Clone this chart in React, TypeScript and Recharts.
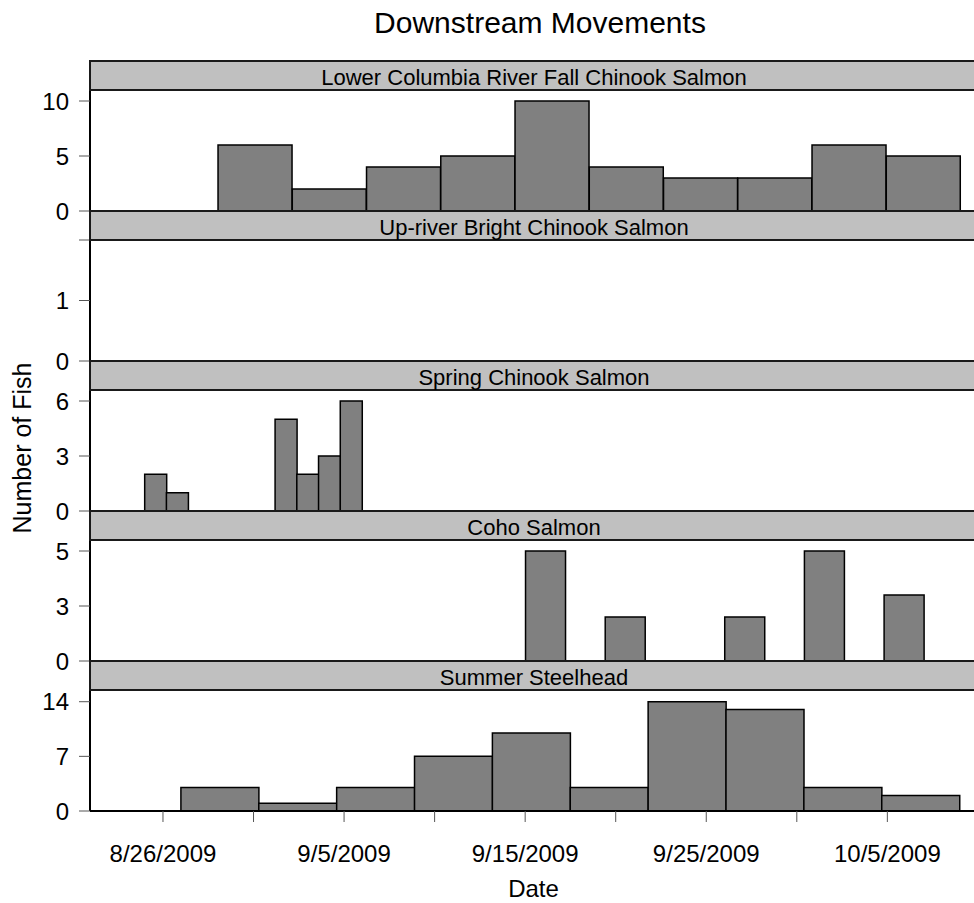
import React from "react";
import { BarChart, Bar, XAxis, YAxis } from "recharts";

// bin centres are days after 8/26/2009, counts are fish per bin
const lowerColumbiaDays = [5.09, 9.19, 13.29, 17.39, 21.49, 25.59, 29.69, 33.79, 37.89, 41.99];
const lowerColumbiaFish = [6, 2, 4, 5, 10, 4, 3, 3, 6, 5];
const lowerColumbiaTicks = [0, 5, 10];
const lowerColumbiaTickLabels = ["0", "5", "10"];

const upriverBrightDays: number[] = [];
const upriverBrightFish: number[] = [];
const upriverBrightTicks = [0, 1, 2];
const upriverBrightTickLabels = ["0", "1", ""];

const springDays = [-0.41, 0.79, 1.99, 3.19, 4.39, 5.59, 6.79, 7.99, 9.19, 10.39];
const springFish = [2, 1, 0, 0, 0, 0, 5, 2, 3, 6];
const springTicks = [0, 3, 6];
const springTickLabels = ["0", "3", "6"];

const cohoDays = [21.12, 23.32, 25.52, 27.72, 29.92, 32.12, 34.32, 36.52, 38.72, 40.92];
const cohoFish = [5, 0, 2, 0, 0, 2, 0, 5, 0, 3];
const cohoTicks = [0, 2.5, 5];
const cohoTickLabels = ["0", "3", "5"];

const steelheadDays = [3.14, 7.44, 11.74, 16.04, 20.34, 24.64, 28.94, 33.24, 37.54, 41.84];
const steelheadFish = [3, 1, 3, 7, 10, 3, 14, 13, 3, 2];
const steelheadTicks = [0, 7, 14];
const steelheadTickLabels = ["0", "7", "14"];

const dateTicks = [0, 5, 10, 15, 20, 25, 30, 35, 40];
const dateTickLabels = ["8/26/2009", "", "9/5/2009", "", "9/15/2009", "", "9/25/2009", "", "10/5/2009"];

const FONT = "'Liberation Sans', Arial, Helvetica, sans-serif";
const X_DOMAIN: [number, number] = [-4.03, 44.95];
const PANEL_STEP = 150;
const PLOT_H = 121;

const toRows = (days: number[], fish: number[]) =>
  days.map((d, i) => ({ day: d, count: fish[i] }));

const panels = [
  { name: "Lower Columbia River Fall Chinook Salmon", rows: toRows(lowerColumbiaDays, lowerColumbiaFish), yMax: 11, ticks: lowerColumbiaTicks, labels: lowerColumbiaTickLabels },
  { name: "Up-river Bright Chinook Salmon", rows: toRows(upriverBrightDays, upriverBrightFish), yMax: 2, ticks: upriverBrightTicks, labels: upriverBrightTickLabels },
  { name: "Spring Chinook Salmon", rows: toRows(springDays, springFish), yMax: 6.6, ticks: springTicks, labels: springTickLabels },
  { name: "Coho Salmon", rows: toRows(cohoDays, cohoFish), yMax: 5.5, ticks: cohoTicks, labels: cohoTickLabels },
  { name: "Summer Steelhead", rows: toRows(steelheadDays, steelheadFish), yMax: 15.5, ticks: steelheadTicks, labels: steelheadTickLabels },
];

export default function App() {
  return (
    <div
      style={{
        position: "absolute",
        left: 0,
        top: 0,
        width: 974,
        height: 903,
        overflow: "hidden",
        background: "#fff",
        fontFamily: FONT,
      }}
    >
      {panels.map((p, i) => {
        const last = i === panels.length - 1;
        return (
          <div key={p.name} style={{ position: "absolute", left: 0, top: 75 + PANEL_STEP * i }}>
            <BarChart
              width={977}
              height={15 + PLOT_H + (last ? 92 : 15)}
              data={p.rows}
              margin={{ top: 15, right: 0, bottom: last ? 0 : 15, left: 0 }}
              barCategoryGap={0}
              barGap={0}
            >
              <XAxis
                dataKey="day"
                type="number"
                domain={X_DOMAIN}
                allowDataOverflow
                ticks={dateTicks}
                interval={0}
                hide={!last}
                height={92}
                tickSize={11}
                tickMargin={23}
                axisLine={{ stroke: "#000", strokeWidth: 2 }}
                tickLine={{ stroke: "#555" }}
                tick={{ fill: "#000", fontSize: 24 }}
                tickFormatter={(_v: number, idx: number) => dateTickLabels[idx]}
                label={last ? { value: "Date", position: "insideBottom", offset: 6, fill: "#000", fontSize: 24 } : undefined}
              />
              <YAxis
                type="number"
                domain={[0, p.yMax]}
                allowDataOverflow
                ticks={p.ticks}
                interval={0}
                width={90}
                tickSize={11}
                tickMargin={10}
                axisLine={{ stroke: "#000", strokeWidth: 2 }}
                tickLine={{ stroke: "#555" }}
                tick={{ fill: "#000", fontSize: 24 }}
                tickFormatter={(_v: number, idx: number) => p.labels[idx]}
              />
              <Bar
                dataKey="count"
                fill="#808080"
                stroke="#000"
                strokeWidth={1.5}
                isAnimationActive={false}
              />
            </BarChart>
          </div>
        );
      })}

      {panels.map((p, i) => (
        <div
          key={"strip-" + p.name}
          style={{
            position: "absolute",
            left: 89,
            top: 60 + PANEL_STEP * i,
            width: 888,
            height: 31,
            boxSizing: "border-box",
            borderTop: "2px solid #1a1a1a",
            borderBottom: "2px solid #1a1a1a",
            borderLeft: "2px solid #1a1a1a",
            background: "#c0c0c0",
            fontSize: 22,
            lineHeight: "27px",
            paddingTop: 2,
            textAlign: "center",
            color: "#000",
            whiteSpace: "nowrap",
          }}
        >
          {p.name}
        </div>
      ))}

      <svg
        width={974}
        height={903}
        style={{ position: "absolute", left: 0, top: 0, pointerEvents: "none" }}
      >
        <text x={540} y={33} textAnchor="middle" fontSize={30} fill="#000">
          Downstream Movements
        </text>
        <text
          x={31}
          y={448}
          textAnchor="middle"
          fontSize={25}
          fill="#000"
          transform="rotate(-90 31 448)"
        >
          Number of Fish
        </text>
      </svg>
    </div>
  );
}
